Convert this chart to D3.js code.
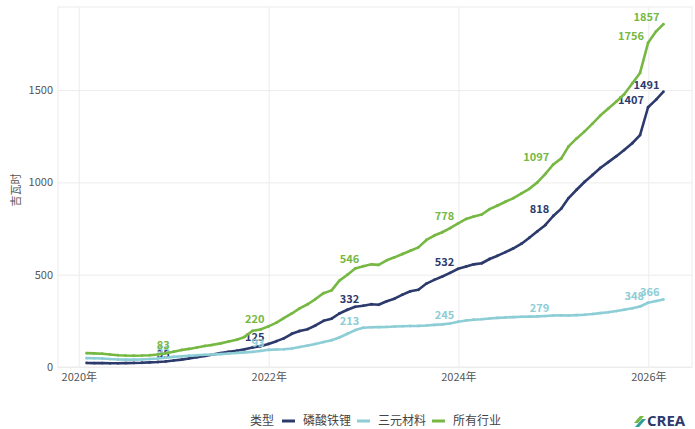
<!DOCTYPE html>
<html>
<head>
<meta charset="utf-8">
<script src="https://cdn.jsdelivr.net/npm/d3@7"></script>
<style>
  body { margin: 0; background: #fff; }
  svg { display: block; font-family: "Noto Sans CJK SC", "Noto Sans", sans-serif; }
</style>
</head>
<body>
<svg width="695" height="429"></svg>
<script>
const width = 695;
const height = 429;
const margin = {top: 7, right: 3, bottom: 62, left: 58};

// monthly, Jan 2020 .. Feb 2026 (cumulative, GWh)
const months = d3.timeMonth.range(new Date(2020, 0, 1), new Date(2026, 2, 1));

const lfp = [
  22, 21, 21, 20, 20, 21, 22, 23, 25, 27, 30, 35,
  40, 46, 53, 60, 68, 75, 82, 88, 96, 106, 113, 125,
  140, 155, 180, 195, 205, 225, 250, 262, 290, 310, 326, 332,
  340, 337, 356, 370, 392, 410, 418, 452, 472, 490, 510, 532,
  545, 556, 562, 585, 603, 622, 643, 668, 700, 735, 768, 818,
  858, 915, 960, 1002, 1040, 1078, 1110, 1142, 1175, 1212, 1256, 1407,
  1448, 1491
];
const ncm = [
  48, 47, 46, 43, 41, 40, 40, 41, 43, 46, 50, 55,
  58, 61, 64, 66, 68, 70, 73, 76, 79, 82, 87, 93,
  95, 96, 100, 108, 116, 125, 135, 145, 160, 180, 200, 213,
  215, 216, 217, 219, 221, 222, 223, 225, 228, 231, 236, 245,
  252, 256, 259, 263, 266, 268, 270, 272, 273, 274, 276, 279,
  280, 279, 281, 283, 287, 292, 297, 303, 310, 318, 328, 348,
  357, 366
];
const allSectors = [
  75, 74, 72, 68, 64, 62, 61, 62, 64, 68, 74, 83,
  92, 98, 106, 114, 120, 128, 138, 148, 163, 196, 203, 220,
  240, 265, 290, 318, 340, 368, 400, 415, 468, 500, 534, 546,
  556, 553, 578, 594, 612, 630, 648, 688, 712, 730, 752, 778,
  802, 815, 826, 855, 875, 895, 915, 940, 965, 1000, 1045, 1097,
  1130, 1195, 1238, 1275, 1318, 1362, 1400, 1438, 1477, 1536, 1593, 1756,
  1818, 1857
];
const seriesNames = ['磷酸铁锂', '三元材料', '所有行业'];
const colors = ['#2c3a6c', '#8ccdd6', '#76b843'];
const labelIdx = [11, 23, 35, 47, 59, 71, 73];
const yTicks = [0, 500, 1000, 1500];
const xTicks = [2020, 2022, 2024, 2026];

const series = [lfp, ncm, allSectors].map((vals, i) => ({
  name: seriesNames[i],
  color: colors[i],
  points: vals.map((v, j) => ({date: new Date(months[j].getFullYear(), months[j].getMonth() + 1, 0), value: v}))
}));

const svg = d3.select('svg');

const xScale = d3.scaleTime()
  .domain([new Date(2019, 9, 13), new Date(2026, 5, 18)])
  .range([margin.left, width - margin.right]);

const yScale = d3.scaleLinear()
  .domain([0, 1950])
  .range([height - margin.bottom, margin.top]);

// panel + grid
svg.append('rect')
  .attr('x', margin.left)
  .attr('y', margin.top)
  .attr('width', width - margin.left - margin.right)
  .attr('height', height - margin.top - margin.bottom)
  .attr('fill', 'none')
  .attr('stroke', '#ececec');

const xAxis = d3.axisBottom(xScale)
  .tickValues(xTicks.map(y => new Date(y, 0, 1)))
  .tickFormat(d => d.getFullYear() + '年')
  .tickSize(-(height - margin.top - margin.bottom))
  .tickSizeOuter(0)
  .tickPadding(6);

const yAxis = d3.axisLeft(yScale)
  .tickValues(yTicks)
  .tickFormat(d3.format('d'))
  .tickSize(-(width - margin.left - margin.right))
  .tickSizeOuter(0)
  .tickPadding(5);

const gx = svg.append('g')
  .attr('transform', 'translate(0,' + (height - margin.bottom) + ')')
  .call(xAxis);

const gy = svg.append('g')
  .attr('transform', 'translate(' + margin.left + ',0)')
  .call(yAxis);

[gx, gy].forEach(g => {
  g.select('.domain').remove();
  g.selectAll('.tick line').attr('stroke', '#ececec');
  g.selectAll('.tick text')
    .attr('fill', '#555')
    .style('font-size', '11px')
    .style('font-family', '"Noto Sans CJK SC", "Noto Sans", sans-serif');
});

svg.append('text')
  .attr('transform', 'rotate(-90)')
  .attr('x', -190)
  .attr('y', 20)
  .attr('fill', '#555')
  .style('font-size', '11px')
  .style('text-anchor', 'middle')
  .text('吉瓦时');

// lines
const line = d3.line()
  .x(d => xScale(d.date))
  .y(d => yScale(d.value));

const gs = svg.selectAll('.series')
  .data(series)
  .enter()
  .append('g');

gs.append('path')
  .attr('d', d => line(d.points))
  .attr('fill', 'none')
  .attr('stroke', d => d.color)
  .attr('stroke-width', 2.6)
  .attr('stroke-linejoin', 'round');

gs.selectAll('circle')
  .data(d => d.points.map(p => ({...p, color: d.color})))
  .enter()
  .append('circle')
  .attr('cx', d => xScale(d.date))
  .attr('cy', d => yScale(d.value))
  .attr('r', 1.4)
  .attr('fill', d => d.color);

gs.selectAll('.lbl')
  .data(d => labelIdx.map(i => ({...d.points[i], color: d.color})))
  .enter()
  .append('text')
  .attr('x', d => xScale(d.date) - 4)
  .attr('y', d => yScale(d.value) - 3)
  .attr('fill', d => d.color)
  .style('font-size', '11px')
  .style('font-weight', 'bold')
  .style('text-anchor', 'end')
  .text(d => d.value);

// legend
const legend = svg.append('g').attr('transform', 'translate(0,421)');
legend.append('text')
  .attr('x', 250)
  .attr('dy', '0.35em')
  .attr('fill', '#444')
  .style('font-size', '12px')
  .text('类型');

const legendX = [282, 357, 432];
series.forEach((s, i) => {
  legend.append('line')
    .attr('x1', legendX[i])
    .attr('x2', legendX[i] + 13)
    .attr('stroke', s.color)
    .attr('stroke-width', 3);
  legend.append('text')
    .attr('x', legendX[i] + 21)
    .attr('dy', '0.35em')
    .attr('fill', '#444')
    .style('font-size', '12px')
    .text(s.name);
});

// logo
const logo = svg.append('g').attr('transform', 'translate(634,421)');
logo.append('path')
  .attr('d', 'M0,2 L6,-5 L10,-5 L4,2 Z')
  .attr('fill', '#76b843');
logo.append('path')
  .attr('d', 'M1,6 L8,-2 L12,-2 L5,6 Z')
  .attr('fill', '#2e9e9a');
logo.append('text')
  .attr('x', 13)
  .attr('dy', '0.36em')
  .attr('fill', '#2c3a6c')
  .style('font-size', '15px')
  .style('font-weight', 'bold')
  .style('font-family', '"Open Sans", "Noto Sans", sans-serif')
  .text('CREA');
</script>
</body>
</html>
